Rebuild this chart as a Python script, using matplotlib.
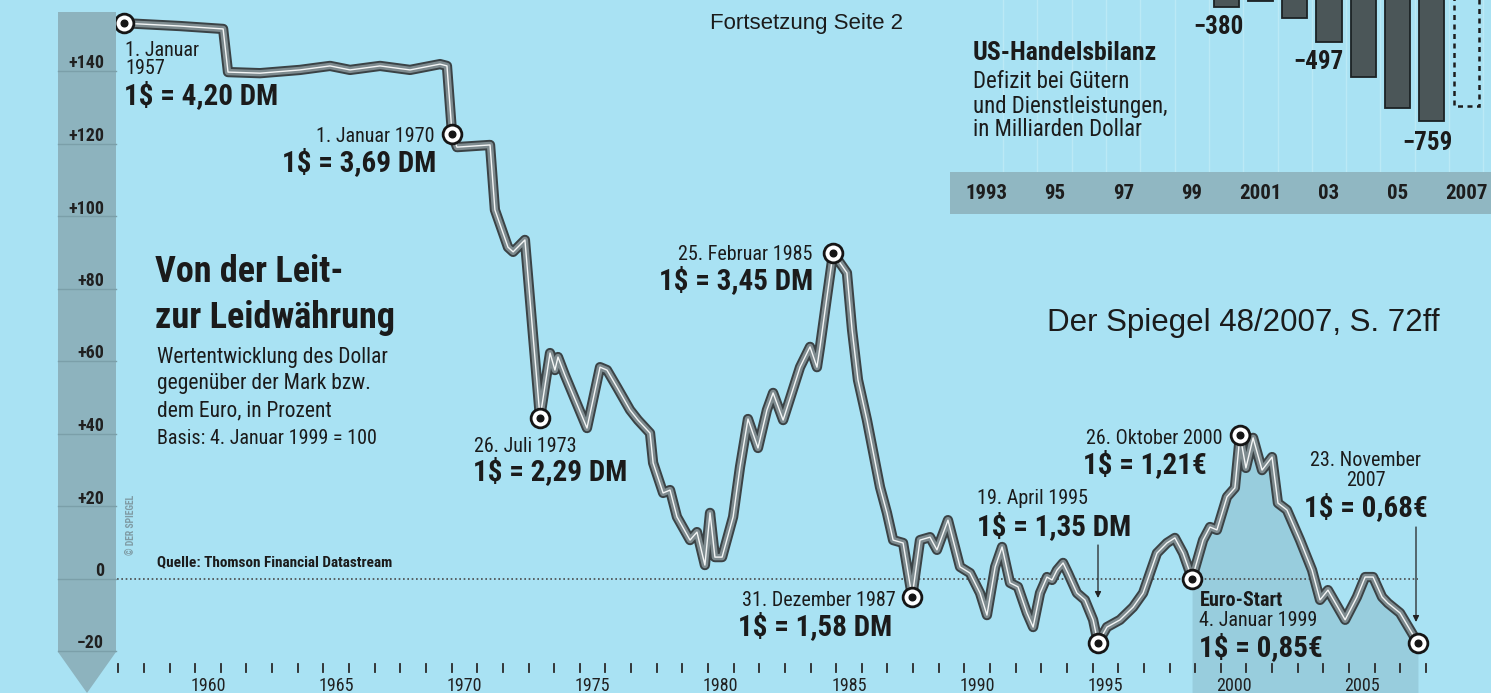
import numpy as np
import matplotlib
matplotlib.use('Agg')
import matplotlib.pyplot as plt
import matplotlib.font_manager as fm
from matplotlib.patches import Polygon, Rectangle
from matplotlib.transforms import blended_transform_factory

# ---------------- data ----------------
years = [1957.22, 1959.41, 1961.09, 1961.28, 1962.53, 1964.09, 1965.26, 1966.04, 1967.21, 1968.38,
         1969.55, 1969.82, 1970.02, 1970.21, 1971.50, 1971.69, 1972.20, 1972.40, 1972.86, 1973.45,
         1973.84, 1974.03, 1974.15, 1974.42, 1975.28, 1975.79, 1976.06, 1976.45, 1976.96, 1977.27,
         1977.74, 1977.86, 1978.25, 1978.52, 1978.79, 1979.30, 1979.57, 1979.88, 1980.08, 1980.27,
         1980.55, 1980.98, 1981.25, 1981.56, 1981.95, 1982.30, 1982.54, 1982.93, 1983.59, 1983.98,
         1984.25, 1984.37, 1984.64, 1984.88, 1985.42, 1985.62, 1985.85, 1986.20, 1986.71, 1986.98,
         1987.22, 1987.61, 1987.96, 1988.27, 1988.66, 1988.93, 1989.36, 1989.83, 1990.22, 1990.61,
         1990.88, 1991.20, 1991.47, 1991.78, 1992.09, 1992.44, 1992.68, 1992.95, 1993.22, 1993.42,
         1993.61, 1993.85, 1994.04, 1994.39, 1994.70, 1995.02, 1995.21, 1995.56, 1996.07, 1996.58,
         1996.97, 1997.24, 1997.51, 1997.90, 1998.21, 1998.53, 1998.88, 1999.31, 1999.58, 1999.85,
         2000.24, 2000.55, 2000.75, 2000.98, 2001.26, 2001.61, 2002.00, 2002.23, 2002.58, 2003.09,
         2003.56, 2003.87, 2004.18, 2004.85, 2005.31, 2005.63, 2005.94, 2006.29, 2006.52, 2006.99,
         2007.69]
pct = [153.2, 152.4, 151.6, 139.7, 139.4, 140.3, 141.4, 140.3, 141.4, 140.3,
       141.9, 141.4, 122.6, 119.0, 119.6, 101.7, 91.4, 90.1, 93.4, 44.3,
       62.2, 57.5, 61.1, 56.1, 41.5, 58.3, 57.5, 52.8, 46.5, 43.7,
       40.1, 31.9, 23.6, 24.4, 17.0, 10.6, 12.8, 3.7, 18.1, 5.9,
       5.9, 17.0, 30.8, 44.0, 36.0, 46.5, 51.2, 43.7, 58.3, 63.9,
       58.3, 63.9, 77.7, 89.8, 84.3, 68.6, 54.8, 43.7, 25.2, 18.1,
       10.6, 9.8, -5.1, 10.6, 11.4, 7.9, 16.1, 3.2, 1.5, -4.0,
       -10.1, 3.2, 8.7, -1.2, -2.3, -9.5, -13.4, -4.0, 0.4, -0.4,
       2.3, 4.3, 1.5, -4.0, -5.9, -11.4, -17.8, -13.4, -11.4, -7.9,
       -4.0, 1.5, 7.0, 9.8, 11.2, 7.0, 0.0, 10.6, 14.2, 13.4,
       22.5, 25.0, 39.6, 30.5, 38.8, 29.9, 33.5, 20.8, 18.9, 10.6,
       2.3, -5.9, -3.2, -11.4, -5.1, 0.4, 0.4, -5.1, -6.8, -9.5,
       -17.8]
event_years = [1957.22, 1970.02, 1973.45, 1984.88, 1987.96, 1995.21, 1998.88, 2000.75, 2007.69]
euro_start = 1998.88

y_ticks = [-20, 0, 20, 40, 60, 80, 100, 120, 140]
y_tick_labels = ['−20', '0', '+20', '+40', '+60', '+80', '+100', '+120', '+140']
x_label_years = [1960, 1965, 1970, 1975, 1980, 1985, 1990, 1995, 2000, 2005]

# inset: US trade balance (billion dollars)
tb_years = [2000, 2001, 2002, 2003, 2004, 2005, 2006]
tb_values = [-380, -362, -418, -497, -612, -717, -759]
tb_est_year = 2007
tb_est_value = -709
tb_axis_years = [1993, 1995, 1997, 1999, 2001, 2003, 2005, 2007]
tb_axis_labels = ['1993', '95', '97', '99', '2001', '03', '05', '2007']

# ---------------- fonts ----------------
names = {f.name for f in fm.fontManager.ttflist}
COND = 'Roboto Condensed' if 'Roboto Condensed' in names else 'Roboto'

# ---------------- layout ----------------
W, H, DPI = 1491, 693, 100
BG = '#a9e2f3'
X_REF_PX, X_REF_YEAR, PX_PER_YEAR = 208.0, 1960.5, 25.64
Y0_PX, PX_PER_PCT = 578.5, 3.625

def year_of_px(px):
    return X_REF_YEAR + (px - X_REF_PX) / PX_PER_YEAR

def pct_of_px(py):
    return (Y0_PX - py) / PX_PER_PCT

def fx(px):
    return px / W

def fy(py):
    return 1 - py / H

fig = plt.figure(figsize=(W / DPI, H / DPI), dpi=DPI)
fig.patch.set_facecolor(BG)

def ptext(x, y, s, size=14.5, weight='normal', ha='left', family=None, color='#1b1b1b', **kw):
    fam = family if family is not None else COND
    return fig.text(fx(x), fy(y), s, fontsize=size, fontweight=weight, ha=ha, va='center',
                    family=fam, color=color, **kw)

ax = fig.add_axes([0, 0, 1, 1])
ax.set_xlim(year_of_px(0), year_of_px(W))
ax.set_ylim(pct_of_px(H), pct_of_px(0))
ax.axis('off')

# left value band with arrow tip
band = Polygon([(fx(58), fy(12)), (fx(116), fy(12)), (fx(116), fy(652)), (fx(87), fy(693)),
                (fx(58), fy(652))], closed=True, transform=fig.transFigure,
               facecolor='#8db3be', edgecolor='none', zorder=1)
fig.patches.append(band)
for v, lab in zip(y_ticks, y_tick_labels):
    py = Y0_PX - v * PX_PER_PCT
    fig.lines.append(plt.Line2D([fx(58), fx(116)], [fy(py), fy(py)], transform=fig.transFigure,
                                color='#7b9fa9', lw=1.0, zorder=2))
    ptext(104, py - 7.5, lab, size=13, weight='bold', ha='right', color='#202020', zorder=3)

ptext(131, 525, '© DER SPIEGEL', size=7, weight='bold', ha='center', color='#7f9ba4', rotation=90)

# shaded euro period
xs = np.array(years)
ys = np.array(pct)
m = xs >= euro_start
ax.fill_between(xs[m], ys[m], pct_of_px(H), color='#98cddd', lw=0, zorder=1)

# zero line
ax.plot([year_of_px(117), year_of_px(1418)], [0, 0], color='#4a4a4a', lw=1.2,
        linestyle=(0, (1, 1.6)), zorder=2)

# curve: dark outline, grey body, white centre line
ax.plot(xs, ys, color='#3a4245', lw=7.4, solid_joinstyle='round', solid_capstyle='round', zorder=4)
ax.plot(xs, ys, color='#7e8b8f', lw=4.6, solid_joinstyle='round', solid_capstyle='round', zorder=5)
ax.plot(xs, ys, color='#f4f6f6', lw=1.0, solid_joinstyle='round', zorder=6)

ev_x = np.array(event_years)
ev_y = np.interp(ev_x, xs, ys)
ax.plot(ev_x, ev_y, 'o', ms=13.5, mfc='white', mec='#151515', mew=2.0, zorder=7)
ax.plot(ev_x, ev_y, 'o', ms=4.8, color='#151515', zorder=8)

# x ticks and labels
tr = blended_transform_factory(ax.transData, fig.transFigure)
for yr in range(1957, 2009):
    ax.plot([yr, yr], [fy(664), fy(672)], transform=tr, color='#2a2a2a', lw=1.3, zorder=3)
for yr in x_label_years:
    ax.text(yr + 0.5, fy(686), str(yr), transform=tr, ha='center', va='center', fontsize=13,
            family=COND, color='#202020')

# annotations
VS = 21
ptext(125, 51, '1. Januar')
ptext(125, 69, '1957')
ptext(124, 96, '1$ = 4,20 DM', size=VS, weight='bold')
ptext(434, 136, '1. Januar 1970', ha='right')
ptext(436, 163, '1$ = 3,69 DM', size=VS, weight='bold', ha='right')
ptext(474, 447, '26. Juli 1973')
ptext(473, 472, '1$ = 2,29 DM', size=VS, weight='bold')
ptext(812, 255, '25. Februar 1985', ha='right')
ptext(813, 281, '1$ = 3,45 DM', size=VS, weight='bold', ha='right')
ptext(896, 600, '31. Dezember 1987', ha='right')
ptext(738, 627, '1$ = 1,58 DM', size=VS, weight='bold')
ptext(977, 498, '19. April 1995')
ptext(977, 527, '1$ = 1,35 DM', size=VS, weight='bold')
ptext(1222, 438, '26. Oktober 2000', ha='right')
ptext(1083, 465, '1$ = 1,21€', size=VS, weight='bold')
ptext(1366, 460, '23. November', ha='center')
ptext(1366, 481, '2007', ha='center')
ptext(1366, 508, '1$ = 0,68€', size=VS, weight='bold', ha='center')
ptext(1200, 600, 'Euro-Start', weight='bold')
ptext(1199, 620, '4. Januar 1999')
ptext(1199, 648, '1$ = 0,85€', size=VS, weight='bold')

arrow_kw = dict(arrowstyle='-|>', lw=0.9, color='#222222', mutation_scale=9, shrinkA=0, shrinkB=0)
ax.annotate('', xy=(fx(1098), fy(598)), xytext=(fx(1098), fy(545)), xycoords='figure fraction',
            textcoords='figure fraction', arrowprops=arrow_kw)
ax.annotate('', xy=(fx(1416), fy(622)), xytext=(fx(1416), fy(527)), xycoords='figure fraction',
            textcoords='figure fraction', arrowprops=arrow_kw)

# title block
ptext(155, 272, 'Von der Leit-', size=26, weight='bold')
ptext(155, 318, 'zur Leidwährung', size=26, weight='bold')
ptext(157, 357, 'Wertentwicklung des Dollar', size=15.5)
ptext(157, 384, 'gegenüber der Mark bzw.', size=15.5)
ptext(157, 411, 'dem Euro, in Prozent', size=15.5)
ptext(157, 439, 'Basis: 4. Januar 1999 = 100', size=14.5)
ptext(157, 562, 'Quelle: Thomson Financial Datastream', size=11, weight='bold')

ptext(903, 23, 'Fortsetzung Seite 2', size=16, family='Liberation Sans', ha='right')
ptext(1440, 323, 'Der Spiegel 48/2007, S. 72ff', size=22.5, family='Liberation Sans', ha='right')

# ---------------- inset: US-Handelsbilanz ----------------
IN_X0, IN_X1, IN_Y1 = 950, 1491, 172
BAR_C0, BAR_DX = 986.0, 34.3
def tb_year_of_px(px):
    return 1993 + (px - BAR_C0) / BAR_DX
def tb_val_of_px(py):
    return -(py + 107.8) / 0.3015

fig.patches.append(Rectangle((fx(IN_X0), fy(214)), fx(IN_X1) - fx(IN_X0), fy(172) - fy(214),
                             transform=fig.transFigure, facecolor='#90b7c2', edgecolor='none', zorder=1))
ax2 = fig.add_axes([fx(IN_X0), fy(IN_Y1), fx(IN_X1) - fx(IN_X0), 1 - fy(IN_Y1)])
ax2.set_xlim(tb_year_of_px(IN_X0), tb_year_of_px(IN_X1))
ax2.set_ylim(tb_val_of_px(IN_Y1), tb_val_of_px(0))
ax2.patch.set_alpha(0)
ax2.axis('off')
for yr in range(1993, 2008):
    ax2.axvline(yr + 0.5, color='#c3ecf7', lw=1.0, alpha=0.7, zorder=0)
ax2.bar(tb_years, tb_values, width=0.73, color='#4b5658', edgecolor='#1c2224', lw=1.3, zorder=2)
ax2.bar([tb_est_year], [tb_est_value], width=0.73, facecolor='none', edgecolor='#1c1c1c',
        lw=1.8, linestyle=(0, (2, 1.8)), zorder=2)
for yr, lab in zip(tb_axis_years, tb_axis_labels):
    ptext(BAR_C0 + (yr - 1993) * BAR_DX, 193, lab, size=15, weight='bold', ha='center', color='#1d1d1d')

ptext(1218, 27, '−380', size=18, weight='bold', ha='center')
ptext(1318, 62, '−497', size=18, weight='bold', ha='center')
ptext(1427, 143, '−759', size=18, weight='bold', ha='center')
ptext(973, 53, 'US-Handelsbilanz', size=18.5, weight='bold')
ptext(973, 82, 'Defizit bei Gütern', size=16.5)
ptext(973, 107, 'und Dienstleistungen,', size=16.5)
ptext(973, 130, 'in Milliarden Dollar', size=16.5)

fig.savefig('out.png', dpi=DPI, facecolor=BG)
